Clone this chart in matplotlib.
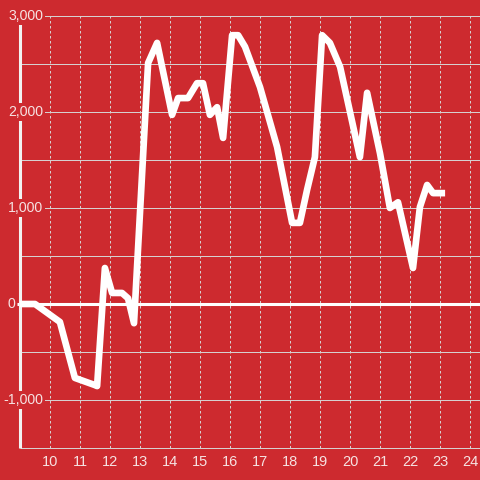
import matplotlib
matplotlib.use("Agg")
import matplotlib.pyplot as plt

# data (hour of day, value)
times = [9.0, 9.5, 10.33, 10.83, 11.5, 11.57, 11.83, 12.07, 12.4, 12.6, 12.8,
         13.27, 13.57, 14.07, 14.27, 14.6, 14.9, 15.1, 15.33, 15.57, 15.77,
         16.07, 16.27, 16.5, 17.0, 17.57, 18.07, 18.33, 18.57, 18.83, 19.07,
         19.33, 19.67, 20.33, 20.57, 21.0, 21.33, 21.6, 22.1, 22.33, 22.57,
         22.77, 23.17]
values = [0, 0, -187, -770, -845, -855, 375, 115, 115, 60, -200,
          2510, 2720, 1970, 2145, 2145, 2300, 2300, 1970, 2050, 1730,
          2800, 2800, 2680, 2260, 1635, 845, 845, 1190, 1530, 2800,
          2720, 2470, 1530, 2200, 1570, 1000, 1060, 375, 1010, 1240,
          1155, 1155]
x_ticks = list(range(10, 25))
y_grid = [-1500, -1000, -500, 500, 1000, 1500, 2000, 2500, 3000]
y_labels = {3000: "3,000", 2000: "2,000", 1000: "1,000", -1000: "-1,000"}

BG = "#cd2a2f"
TXT = "#f6e2e2"
GRID = "#d6d0d0"

fig = plt.figure(figsize=(4.8, 4.8), dpi=100, facecolor=BG)
ax = fig.add_axes([0, 0, 1, 1])
ax.set_facecolor(BG)
px_x = 1 / 30.0
px_y = 1000 / 96.0
ax.set_xlim(9 - 20 * px_x, 9 + 460 * px_x)
ax.set_ylim(-(176) * px_y, 304 * px_y)
ax.axis("off")

lw1 = 0.72
# horizontal grid
ax.hlines(y_grid, 9, 9 + 460 * px_x, color=GRID, lw=lw1, zorder=1)
# vertical dotted grid
ax.vlines(x_ticks, -1500, 3000, color=GRID, lw=lw1, linestyles=(0, (2.5, 2.5)), zorder=1)
# zero line
ax.hlines(0, 9 - 3 * px_x, 9 + 460 * px_x, color="white", lw=2.2, zorder=2)
# left spine
ax.vlines(9, -1500, 2920, color="#f2f2f2", lw=2.2, zorder=2)

# line
ax.plot(times, values, color="white", lw=4.8, solid_joinstyle="round",
        solid_capstyle="butt", zorder=4)

for v, s in y_labels.items():
    ax.text(9 + 23 * px_x, v, s, ha="right", va="center", color=TXT,
            fontsize=10.2, family="Liberation Sans", zorder=3,
            bbox=dict(boxstyle="square,pad=0.12", fc=BG, ec="none"))
ax.text(9 - 4.5 * px_x, 0, "0", ha="right", va="center", color=TXT,
        fontsize=10.2, family="Liberation Sans", zorder=5)

for t in x_ticks:
    ax.text(t, -158 * px_y, str(t), ha="center", va="center", color=TXT,
            fontsize=10.5, family="Liberation Sans", zorder=3)

fig.savefig("out.png", dpi=100, facecolor=BG)
